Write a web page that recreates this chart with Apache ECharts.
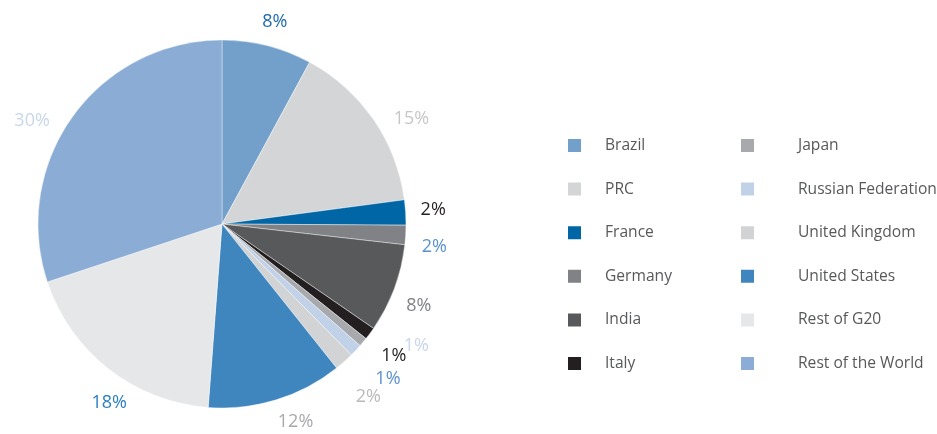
<!DOCTYPE html>
<html>
<head>
<meta charset="utf-8">
<script src="https://cdn.jsdelivr.net/npm/echarts@6/dist/echarts.min.js"></script>
<style>
  html, body { margin: 0; padding: 0; background: #fff; }
  #main { width: 937px; height: 434px; }
</style>
</head>
<body>
<div id="main"></div>
<script>
// categories, clockwise from 12 o'clock
var names = ['Brazil', 'PRC', 'France', 'Germany', 'India', 'Italy',
  'Japan', 'Russian Federation', 'United Kingdom', 'United States', 'Rest of G20', 'Rest of the World'];
// shares (%)
var shares = [7.9, 15.0, 2.2, 1.7, 7.8, 1.1, 0.8, 1.1, 1.7, 11.9, 18.7, 30.1];
// printed labels
var labels = ['8%', '15%', '2%', '2%', '8%', '1%', '1%', '1%', '2%', '12%', '18%', '30%'];

var sliceColors = ['#72a0cb', '#d4d5d6', '#0066a6', '#808285', '#58595b', '#231f20',
  '#a7a9ac', '#c0d1e8', '#d1d3d4', '#3f85be', '#e6e7e8', '#8bacd4'];
var labelColors = ['#1f6aa8', '#c6c7c8', '#231f20', '#5b93cc', '#808285', '#c9d7ea',
  '#231f20', '#5b93cc', '#b9babb', '#a7a9ac', '#2a7fc0', '#c9d7ea'];
// small nudges so the labels sit where the original put them
var nudgeX = [-9, 7, -1, 0, -3, 21, 6, 8, 1, -3, 28, -10];
var nudgeY = [-8, 8, -2, 11, 12, 3, 3, 18, 23, 7, 21, 14];

var font = '"Open Sans", "Noto Sans", sans-serif';
var chart = echarts.init(document.getElementById('main'));

var data = names.map(function (n, i) {
  return {
    name: n,
    value: shares[i],
    itemStyle: { color: sliceColors[i] },
    label: { color: labelColors[i], formatter: labels[i] }
  };
});

function legendFor(list, left, pad) {
  return {
    orient: 'vertical',
    left: left,
    top: 132,
    itemWidth: 15,
    itemHeight: 15,
    itemGap: 26.6,
    icon: 'rect',
    data: list,
    selectedMode: false,
    textStyle: { fontFamily: font, fontSize: 15.6, color: '#58595b', padding: [0, 0, 0, pad] }
  };
}

var option = {
  animation: false,
  legend: [
    legendFor(names.slice(0, 6), 561, 18),
    legendFor(names.slice(6), 734, 38)
  ],
  series: [{
    type: 'pie',
    center: [222, 224],
    radius: 184,
    startAngle: 90,
    clockwise: true,
    avoidLabelOverlap: false,
    itemStyle: { borderColor: '#fff', borderWidth: 0.4 },
    label: {
      show: true,
      position: 'outside',
      fontFamily: font,
      fontSize: 18,
      distanceToLabelLine: 0
    },
    labelLine: { show: false, length: 16, length2: 0 },
    labelLayout: function (p) {
      return { dx: nudgeX[p.dataIndex], dy: nudgeY[p.dataIndex], hideOverlap: false };
    },
    data: data
  }]
};

chart.setOption(option);
</script>
</body>
</html>
